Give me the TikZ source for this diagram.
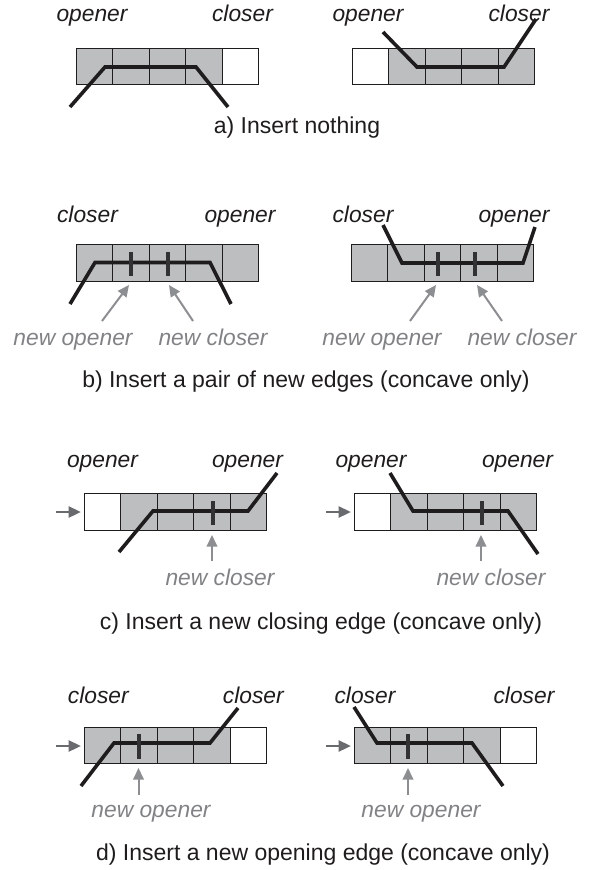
\documentclass[tikz,border=0pt]{standalone}
\usepackage{fontspec}
\setmainfont{Liberation Sans}
\usetikzlibrary{arrows.meta}
\definecolor{cellgray}{RGB}{188,190,192}
\definecolor{ink}{RGB}{30,28,29}
\definecolor{tickink}{RGB}{50,50,52}
\definecolor{arrgray}{RGB}{140,142,145}
\definecolor{entrygray}{RGB}{105,106,109}
\definecolor{txtgray}{RGB}{128,130,133}
\tikzset{
  lbl/.style={font=\fontsize{22.8}{26}\selectfont\itshape, text=ink, inner sep=0pt, anchor=base},
  newlbl/.style={lbl, text=txtgray},
  captxt/.style={font=\fontsize{23}{27}\selectfont, text=ink, inner sep=0pt, anchor=base},
  edgeline/.style={draw=ink, line width=3.6pt},
  tickmark/.style={draw=tickink, line width=3.2pt},
  ptr/.style={draw=arrgray, line width=2pt, -{Triangle[length=11.5pt,width=10.5pt]}},
  entry/.style={draw=entrygray, line width=2.7pt, -{Triangle[length=12.5pt,width=11pt]}},
  cellbox/.style={draw=ink, line width=0.8pt},
}
\newcommand\cellrow[3]{%
  \foreach \f [count=\i from 0] in {#3} {%
    \draw[cellbox, fill=\f] ({#1+\i*36.5},#2) rectangle ({#1+(\i+1)*36.5},{#2+36.5});}}
\begin{document}
\begin{tikzpicture}[x=1pt,y=-1pt]
\useasboundingbox (0,0) rectangle (595,870);
% ---------------- a) ----------------
\cellrow{76}{48}{cellgray,cellgray,cellgray,cellgray,white}
\draw[edgeline] (70,107) -- (105,67) -- (196,67) -- (228,107);
\node[lbl] (aLo) at (92,21) {opener};
\node[lbl] (aLc) at (242.5,21) {closer};
\cellrow{352}{48}{white,cellgray,cellgray,cellgray,cellgray}
\draw[edgeline] (383,32) -- (417,67) -- (504,67) -- (536,19);
\node[lbl] (aRo) at (368,21) {opener};
\node[lbl] (aRc) at (519,21) {closer};
\node[captxt] (capA) at (297,133) {a) Insert nothing};
% ---------------- b) ----------------
\cellrow{76}{244.5}{cellgray,cellgray,cellgray,cellgray,cellgray}
\draw[edgeline] (70,304) -- (95,262.5) -- (210,262.5) -- (231,304);
\draw[tickmark] (131,252) -- (131,276);
\draw[tickmark] (168,252) -- (168,276);
\node[lbl] (bLc) at (87.5,222) {closer};
\node[lbl] (bLo) at (240,222) {opener};
\node[newlbl] (bLno) at (73,345) {new opener};
\node[newlbl] (bLnc) at (213,345) {new closer};
\coordinate (bLp1s) at (102,321); \coordinate (bLp1e) at (129,285);
\coordinate (bLp2s) at (193,321); \coordinate (bLp2e) at (169,285);
\draw[ptr] (bLp1s) -- (bLp1e);
\draw[ptr] (bLp2s) -- (bLp2e);
\cellrow{351}{244.5}{cellgray,cellgray,cellgray,cellgray,cellgray}
\draw[edgeline] (383,225) -- (402,263) -- (523,263) -- (535,227);
\draw[tickmark] (438,252) -- (438,276);
\draw[tickmark] (475,252) -- (475,276);
\node[lbl] (bRc) at (363,222) {closer};
\node[lbl] (bRo) at (514,222) {opener};
\node[newlbl] (bRno) at (382,345) {new opener};
\node[newlbl] (bRnc) at (522,345) {new closer};
\coordinate (bRp1s) at (410,321); \coordinate (bRp1e) at (436,285);
\coordinate (bRp2s) at (502,321); \coordinate (bRp2e) at (477,285);
\draw[ptr] (bRp1s) -- (bRp1e);
\draw[ptr] (bRp2s) -- (bRp2e);
\node[captxt] (capB) at (306,387) {b) Insert a pair of new edges (concave only)};
% ---------------- c) ----------------
\cellrow{84.3}{493.5}{white,cellgray,cellgray,cellgray,cellgray}
\draw[edgeline] (119,552) -- (153,511) -- (248,511) -- (277,473);
\draw[tickmark] (213,501) -- (213,525);
\node[lbl] (cLo1) at (102.5,467) {opener};
\node[lbl] (cLo2) at (247.5,467) {opener};
\node[newlbl] (cLnc) at (220,585) {new closer};
\coordinate (cLes) at (56,512); \coordinate (cLee) at (81,512);
\draw[entry] (cLes) -- (cLee);
\coordinate (cLus) at (212,561); \coordinate (cLue) at (212,535);
\draw[ptr] (cLus) -- (cLue);
\cellrow{354.3}{493.5}{white,cellgray,cellgray,cellgray,cellgray}
\draw[edgeline] (390,473) -- (413,511) -- (508,511) -- (538,554);
\draw[tickmark] (482,501) -- (482,525);
\node[lbl] (cRo1) at (371,467) {opener};
\node[lbl] (cRo2) at (517.5,467) {opener};
\node[newlbl] (cRnc) at (491,585) {new closer};
\coordinate (cRes) at (326,512); \coordinate (cRee) at (351,512);
\draw[entry] (cRes) -- (cRee);
\coordinate (cRus) at (481,561); \coordinate (cRue) at (481,535);
\draw[ptr] (cRus) -- (cRue);
\node[captxt] (capC) at (321,629) {c) Insert a new closing edge (concave only)};
% ---------------- d) ----------------
\cellrow{84.3}{727}{cellgray,cellgray,cellgray,cellgray,white}
\draw[edgeline] (81,786) -- (114,743) -- (210,743) -- (238,708);
\draw[tickmark] (139,734) -- (139,759);
\node[lbl] (dLc1) at (98.3,703) {closer};
\node[lbl] (dLc2) at (253.3,703) {closer};
\node[newlbl] (dLno) at (151,817) {new opener};
\coordinate (dLes) at (56,746); \coordinate (dLee) at (81,746);
\draw[entry] (dLes) -- (dLee);
\coordinate (dLus) at (138.5,795); \coordinate (dLue) at (138.5,768);
\draw[ptr] (dLus) -- (dLue);
\cellrow{354.3}{727}{cellgray,cellgray,cellgray,cellgray,white}
\draw[edgeline] (354,707) -- (377,743) -- (472,743) -- (503,786);
\draw[tickmark] (408,734) -- (408,759);
\node[lbl] (dRc1) at (365,703) {closer};
\node[lbl] (dRc2) at (524,703) {closer};
\node[newlbl] (dRno) at (421,817) {new opener};
\coordinate (dRes) at (326,746); \coordinate (dRee) at (351,746);
\draw[entry] (dRes) -- (dRee);
\coordinate (dRus) at (408,795); \coordinate (dRue) at (408,768);
\draw[ptr] (dRus) -- (dRue);
\node[captxt] (capD) at (323,860) {d) Insert a new opening edge (concave only)};
\end{tikzpicture}
\end{document}
